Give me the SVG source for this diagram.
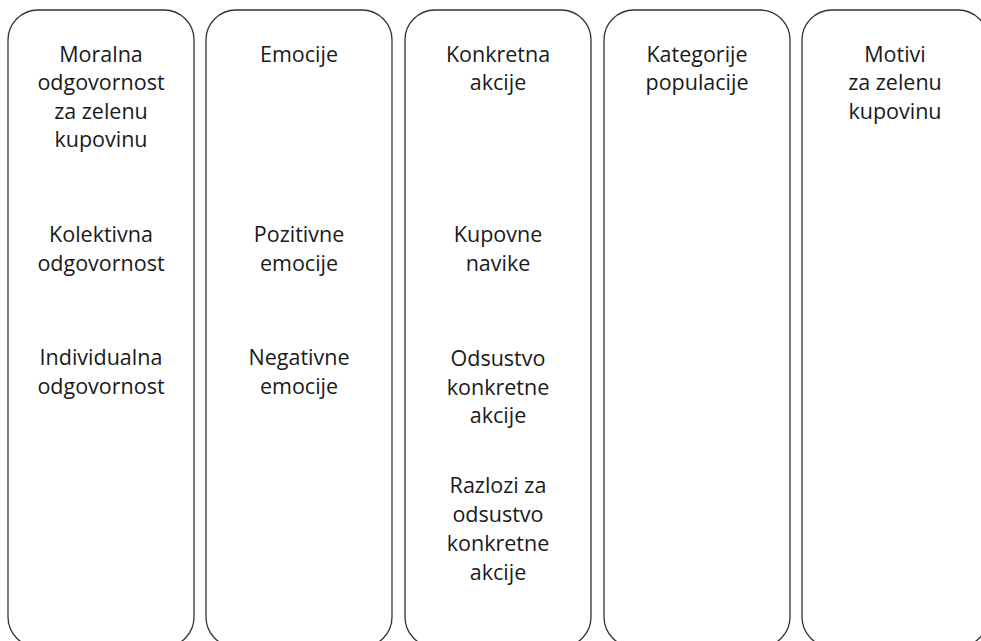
<svg xmlns="http://www.w3.org/2000/svg" width="981" height="641" viewBox="0 0 981 641">
<style>
.col{fill:#ffffff;stroke:#333333;stroke-width:1.3}
text{font-family:"Open Sans","Noto Sans",sans-serif;font-size:21.5px;fill:#1a1a1a;text-anchor:middle}
</style>
<rect width="981" height="641" fill="#ffffff"/>
<g id="col1">
<rect class="col" x="8" y="10" width="186" height="637" rx="30" ry="30"/>
<text x="101" y="61.7">Moralna</text>
<text x="101" y="90">odgovornost</text>
<text x="101" y="118.5">za zelenu</text>
<text x="101" y="147">kupovinu</text>
<text x="101" y="242">Kolektivna</text>
<text x="101" y="271">odgovornost</text>
<text x="101" y="365">Individualna</text>
<text x="101" y="393.5">odgovornost</text>
</g>
<g id="col2">
<rect class="col" x="206" y="10" width="186" height="637" rx="30" ry="30"/>
<text x="299" y="61.7">Emocije</text>
<text x="299" y="242">Pozitivne</text>
<text x="299" y="271">emocije</text>
<text x="299" y="365">Negativne</text>
<text x="299" y="393.5">emocije</text>
</g>
<g id="col3">
<rect class="col" x="405" y="10" width="186" height="637" rx="30" ry="30"/>
<text x="498" y="61.7">Konkretna</text>
<text x="498" y="90">akcije</text>
<text x="498" y="242">Kupovne</text>
<text x="498" y="271">navike</text>
<text x="498" y="366">Odsustvo</text>
<text x="498" y="394.5">konkretne</text>
<text x="498" y="423">akcije</text>
<text x="498" y="493">Razlozi za</text>
<text x="498" y="522">odsustvo</text>
<text x="498" y="551">konkretne</text>
<text x="498" y="580">akcije</text>
</g>
<g id="col4">
<rect class="col" x="604" y="10" width="186" height="637" rx="30" ry="30"/>
<text x="697" y="61.7">Kategorije</text>
<text x="697" y="90">populacije</text>
</g>
<g id="col5">
<rect class="col" x="802" y="10" width="186" height="637" rx="30" ry="30"/>
<text x="895" y="61.7">Motivi</text>
<text x="895" y="90">za zelenu</text>
<text x="895" y="118.5">kupovinu</text>
</g>
<g id="connectors"></g>
</svg>
